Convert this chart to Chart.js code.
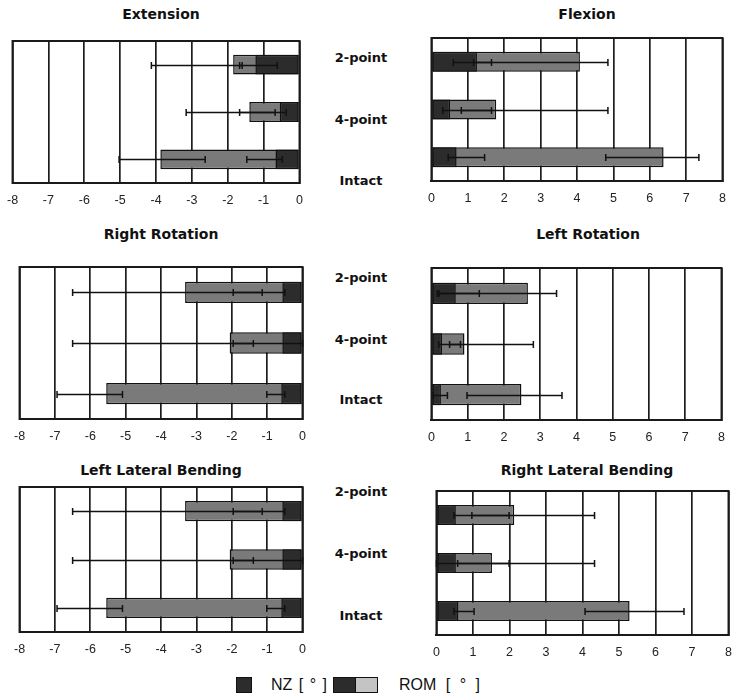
<!DOCTYPE html>
<html><head><meta charset="utf-8">
<script src="https://cdn.jsdelivr.net/npm/chart.js@4.4.1/dist/chart.umd.min.js"></script>
<style>
html,body{margin:0;padding:0;background:#fff;}
body{width:734px;height:694px;position:relative;overflow:hidden;}
.box{position:absolute;}
.title{position:absolute;transform:translate(-50%,-50%);font:bold 14px "DejaVu Sans",sans-serif;white-space:nowrap;color:#111;}
.cat{position:absolute;transform:translate(-50%,-50%);font:bold 13px "DejaVu Sans",sans-serif;white-space:nowrap;color:#111;}
.lg{position:absolute;font:16px "Liberation Sans",Arial,sans-serif;color:#111;white-space:pre;transform:translateY(-50%);}
.sw{position:absolute;border:1px solid #111;box-sizing:border-box;}
</style>
</head><body>
<script>
// ---------- data ----------
const categories = ['2-point', '4-point', 'Intact'];
const titles = ['Extension', 'Flexion', 'Right Rotation', 'Left Rotation', 'Left Lateral Bending', 'Right Lateral Bending'];
const negTicks = [-8, 0];
const posTicks = [0, 8];

const extNZ = [-1.23, -0.55, -0.67];
const extROM = [-1.85, -1.40, -3.88];
const extNZErr = [[-1.67, -0.62], [-1.67, -0.37], [-1.47, -0.48]];
const extROMErr = [[-4.13, -1.60], [-3.16, -0.68], [-5.03, -2.63]];

const flxNZ = [1.25, 0.51, 0.69];
const flxROM = [4.08, 1.78, 6.38];
const flxNZErr = [[0.60, 1.65], [0.31, 1.65], [0.46, 1.46]];
const flxROMErr = [[1.16, 4.85], [0.82, 4.85], [4.79, 7.35]];

const rrNZ = [-0.57, -0.57, -0.60];
const rrROM = [-3.32, -2.06, -5.55];
const rrNZErr = [[-1.96, -0.50], [-1.96, 0], [-1.01, -0.50]];
const rrROMErr = [[-6.50, -1.14], [-6.50, -1.39], [-6.94, -5.09]];

const lrNZ = [0.67, 0.29, 0.26];
const lrROM = [2.66, 0.91, 2.48];
const lrNZErr = [[0.16, 1.32], [0.20, 0.80], [0.05, 0.44]];
const lrROMErr = [[0.21, 3.45], [0.50, 2.81], [0.98, 3.60]];

const llbNZ = [-0.57, -0.57, -0.60];
const llbROM = [-3.32, -2.06, -5.55];
const llbNZErr = [[-1.96, -0.50], [-1.96, 0], [-1.01, -0.50]];
const llbROMErr = [[-6.50, -1.14], [-6.50, -1.39], [-6.94, -5.09]];

const rlbNZ = [0.53, 0.53, 0.60];
const rlbROM = [2.13, 1.52, 5.29];
const rlbNZErr = [[0.48, 1.99], [0, 1.99], [0.48, 1.03]];
const rlbROMErr = [[0.97, 4.33], [0.58, 4.33], [4.07, 6.78]];

const legendLabels = ['NZ [ ° ]', 'ROM [ ° ]'];

// ---------- layout / style ----------
const NZ_COLOR = '#2c2c2c';
const ROM_COLOR = '#7a7a7a';
const ROM_LIGHT = '#c4c4c4';

const panels = [
  {title: titles[0], nz: extNZ, rom: extROM, nzErr: extNZErr, romErr: extROMErr, range: negTicks, l: 9, r: 301, t: 41, b: 183, tx: 161, ty: 14},
  {title: titles[1], nz: flxNZ, rom: flxROM, nzErr: flxNZErr, romErr: flxROMErr, range: posTicks, l: 430, r: 724, t: 38, b: 181, tx: 587, ty: 14},
  {title: titles[2], nz: rrNZ, rom: rrROM, nzErr: rrNZErr, romErr: rrROMErr, range: negTicks, l: 16, r: 304, t: 267, b: 419, tx: 161, ty: 234},
  {title: titles[3], nz: lrNZ, rom: lrROM, nzErr: lrNZErr, romErr: lrROMErr, range: posTicks, l: 430, r: 723, t: 268, b: 420, tx: 588, ty: 234},
  {title: titles[4], nz: llbNZ, rom: llbROM, nzErr: llbNZErr, romErr: llbROMErr, range: negTicks, l: 16, r: 304, t: 487, b: 632, tx: 161, ty: 470},
  {title: titles[5], nz: rlbNZ, rom: rlbROM, nzErr: rlbNZErr, romErr: rlbROMErr, range: posTicks, l: 435, r: 730, t: 491, b: 635, tx: 587, ty: 470}
];
const catRows = [[57, 119, 180], [277, 339, 399], [491, 553, 615]];
const catX = 361;

const framePlugin = {
  id: 'frame',
  beforeDatasetsDraw(chart) {
    const {ctx, chartArea: a} = chart;
    ctx.save();
    ctx.strokeStyle = '#1a1a1a';
    ctx.lineWidth = 2;
    ctx.strokeRect(a.left, a.top, a.right - a.left, a.bottom - a.top);
    ctx.restore();
  }
};

const errorBarPlugin = {
  id: 'errorBars',
  afterDatasetsDraw(chart, args, opts) {
    const {ctx} = chart;
    const xs = chart.scales.x;
    const meta = chart.getDatasetMeta(0);
    ctx.save();
    ctx.strokeStyle = '#111';
    ctx.lineWidth = 1.5;
    [opts.nz, opts.rom].forEach(list => {
      list.forEach((rg, i) => {
        const y = Math.round(meta.data[i].y) + 0.5;
        const x1 = xs.getPixelForValue(rg[0]);
        const x2 = xs.getPixelForValue(rg[1]);
        ctx.beginPath();
        ctx.moveTo(x1, y); ctx.lineTo(x2, y);
        ctx.moveTo(x1, y - 3.5); ctx.lineTo(x1, y + 3.5);
        ctx.moveTo(x2, y - 3.5); ctx.lineTo(x2, y + 3.5);
        ctx.stroke();
      });
    });
    ctx.restore();
  }
};

function addDiv(cls, text, x, y) {
  const d = document.createElement('div');
  d.className = cls;
  d.textContent = text;
  d.style.left = x + 'px';
  d.style.top = y + 'px';
  document.body.appendChild(d);
  return d;
}

const padL = 12, padR = 12, padT = 4, axisH = 32;

panels.forEach(p => {
  const w = (p.r - p.l) + padL + padR;
  const h = (p.b - p.t) + padT + axisH;
  const box = document.createElement('div');
  box.className = 'box';
  box.style.left = (p.l - padL) + 'px';
  box.style.top = (p.t - padT) + 'px';
  box.style.width = w + 'px';
  box.style.height = h + 'px';
  const cv = document.createElement('canvas');
  cv.width = w; cv.height = h;
  cv.style.width = w + 'px'; cv.style.height = h + 'px';
  box.appendChild(cv);
  document.body.appendChild(box);

  new Chart(cv, {
    type: 'bar',
    data: {
      labels: categories,
      datasets: [
        {label: legendLabels[0], data: p.nz, backgroundColor: NZ_COLOR, borderColor: '#111', borderWidth: 1.5, borderSkipped: false, grouped: false, barPercentage: 0.42, categoryPercentage: 1},
        {label: legendLabels[1], data: p.rom, backgroundColor: ROM_COLOR, borderColor: '#111', borderWidth: 1.5, borderSkipped: false, grouped: false, barPercentage: 0.42, categoryPercentage: 1}
      ]
    },
    options: {
      indexAxis: 'y',
      responsive: false,
      maintainAspectRatio: false,
      animation: false,
      devicePixelRatio: 1,
      layout: {padding: {left: padL, right: padR, top: padT, bottom: 0}},
      plugins: {
        legend: {display: false},
        tooltip: {enabled: false},
        errorBars: {nz: p.nzErr, rom: p.romErr}
      },
      scales: {
        x: {
          type: 'linear',
          min: p.range[0], max: p.range[1],
          ticks: {stepSize: 1, padding: 10, color: '#222', font: {family: '"Liberation Sans", Arial, sans-serif', size: 12.5}, maxRotation: 0, autoSkip: false},
          grid: {color: '#1e1e1e', lineWidth: 1.7, drawTicks: false},
          border: {display: true, color: '#1a1a1a', width: 2},
          afterFit(s) { s.height = axisH; }
        },
        y: {display: false}
      }
    },
    plugins: [framePlugin, errorBarPlugin]
  });

  addDiv('title', p.title, p.tx, p.ty);
});

catRows.forEach(row => row.forEach((y, i) => addDiv('cat', categories[i], catX, y)));

// legend
function sw(x, y, w, h, bg) {
  const d = document.createElement('div');
  d.className = 'sw';
  d.style.left = x + 'px'; d.style.top = y + 'px';
  d.style.width = w + 'px'; d.style.height = h + 'px';
  d.style.background = bg;
  document.body.appendChild(d);
}
sw(236, 677, 16, 16, NZ_COLOR);
const l1 = addDiv('lg', legendLabels[0], 271, 685);
l1.style.wordSpacing = '2px';
sw(333, 677, 23, 16, NZ_COLOR);
sw(355, 677, 23, 16, ROM_LIGHT);
const l2 = addDiv('lg', legendLabels[1], 399, 685);
l2.style.wordSpacing = '5px';
</script>
</body></html>
